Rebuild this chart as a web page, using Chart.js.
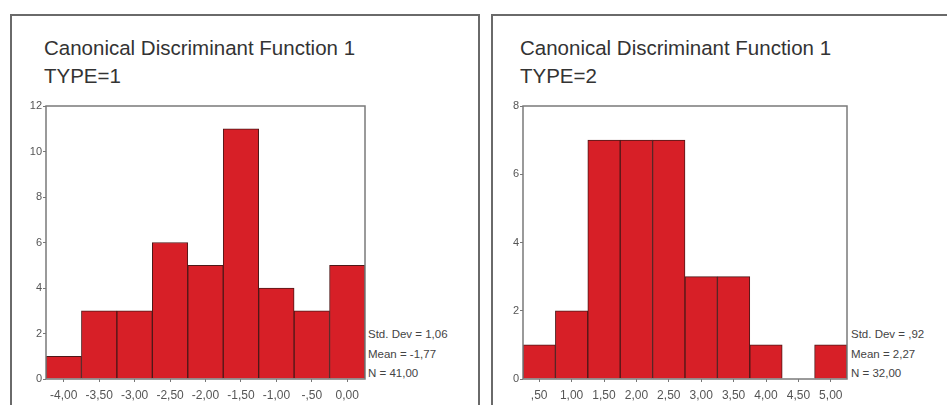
<!DOCTYPE html>
<html>
<head>
<meta charset="utf-8">
<script src="https://cdn.jsdelivr.net/npm/chart.js@4"></script>
<style>
  html, body { margin: 0; padding: 0; background: #fff; }
  body { width: 947px; height: 405px; overflow: hidden; position: relative;
         font-family: "Liberation Sans", Arial, sans-serif; color: #333; }
  .panel { position: absolute; top: 14px; height: 420px; border: 2px solid #6a6a6a; box-sizing: border-box; }
  .title { position: absolute; font-size: 20.5px; line-height: 24px; color: #333; white-space: nowrap; }
  .stats { position: absolute; font-size: 11.5px; line-height: 19.5px; color: #444; white-space: nowrap; }
  canvas { position: absolute; }
</style>
</head>
<body>
<div class="panel" style="left:10px; width:470px;"></div>
<div class="panel" style="left:491px; width:480px;"></div>

<div class="title" style="left:44px; top:36px;">Canonical Discriminant Function 1</div>
<div class="title" style="left:44px; top:64px;">TYPE=1</div>
<div class="title" style="left:520px; top:36px;">Canonical Discriminant Function 1</div>
<div class="title" style="left:520px; top:64px;">TYPE=2</div>

<div class="stats" style="left:368px; top:325px;">Std. Dev = 1,06<br>Mean = -1,77<br>N = 41,00</div>
<div class="stats" style="left:851px; top:325px;">Std. Dev = ,92<br>Mean = 2,27<br>N = 32,00</div>

<div style="position:absolute; left:0; top:95px; width:470px; height:310px;"><canvas id="c1"></canvas></div>
<div style="position:absolute; left:475px; top:95px; width:472px; height:310px;"><canvas id="c2"></canvas></div>

<script>
// histogram 1: TYPE=1
const bins1   = ['-4,00', '-3,50', '-3,00', '-2,50', '-2,00', '-1,50', '-1,00', '-,50', '0,00'];
const counts1 = [1, 3, 3, 6, 5, 11, 4, 3, 5];
const yMax1   = 12;

// histogram 2: TYPE=2
const bins2   = [',50', '1,00', '1,50', '2,00', '2,50', '3,00', '3,50', '4,00', '4,50', '5,00'];
const counts2 = [1, 2, 7, 7, 7, 3, 3, 1, 0, 1];
const yMax2   = 8;

const yStep = 2;

const frame = {
  id: 'frame',
  afterDraw(chart) {
    const a = chart.chartArea, ctx = chart.ctx;
    ctx.save();
    ctx.strokeStyle = '#7a7a7a';
    ctx.lineWidth = 1.5;
    ctx.strokeRect(a.left, a.top, a.right - a.left, a.bottom - a.top);
    ctx.restore();
  }
};

function makeHist(id, labels, counts, yMax, yWidth, padRight) {
  new Chart(document.getElementById(id), {
    type: 'bar',
    data: {
      labels: labels,
      datasets: [{
        data: counts,
        backgroundColor: '#d71f27',
        borderColor: '#4e1818',
        borderWidth: 1,
        barPercentage: 1,
        categoryPercentage: 1
      }]
    },
    options: {
      responsive: true,
      maintainAspectRatio: false,
      animation: false,
      layout: { padding: { top: 11, right: padRight, left: 0, bottom: 0 } },
      plugins: { legend: { display: false }, tooltip: { enabled: false } },
      scales: {
        x: {
          offset: true,
          grid: { display: true, drawOnChartArea: false, offset: false, tickLength: 3, color: '#777' },
          border: { display: false },
          ticks: { color: '#555', font: { family: 'Liberation Sans', size: 12 }, padding: 6, maxRotation: 0, autoSkip: false },
          afterFit: s => { s.height = 26; }
        },
        y: {
          min: 0, max: yMax,
          grid: { display: true, drawOnChartArea: false, tickLength: 3, color: '#777' },
          border: { display: false },
          ticks: { stepSize: yStep, color: '#555', font: { family: 'Liberation Sans', size: 11 }, padding: 1 },
          afterFit: s => { s.width = yWidth; }
        }
      }
    },
    plugins: [frame]
  });
}

makeHist('c1', bins1, counts1, yMax1, 46, 105);
makeHist('c2', bins2, counts2, yMax2, 48, 100);
</script>
</body>
</html>
